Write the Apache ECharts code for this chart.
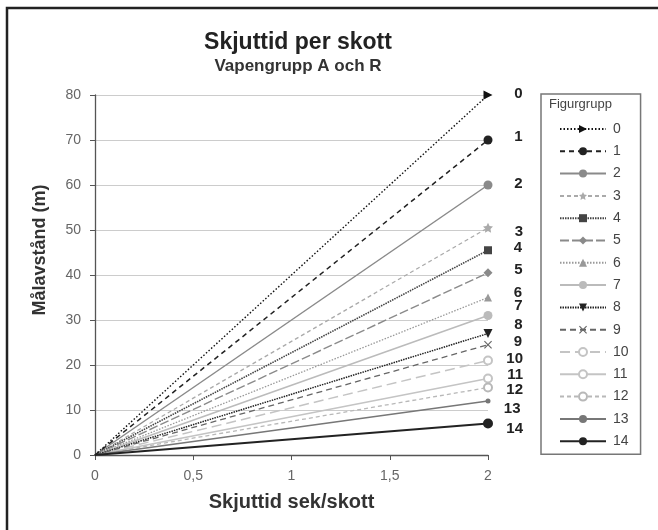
<!DOCTYPE html>
<html>
<head>
<meta charset="utf-8">
<script src="https://cdn.jsdelivr.net/npm/echarts@6/dist/echarts.min.js"></script>
<style>
html,body{margin:0;padding:0;background:#fff;}
#chart{width:658px;height:530px;}
</style>
</head>
<body>
<div id="chart"></div>
<script>
// ---- data ----
var groups = ['0','1','2','3','4','5','6','7','8','9','10','11','12','13','14'];
var endTime = 2;              // sek/skott at the end of each line
var distances = [80, 70, 60, 50.5, 45.5, 40.5, 35, 31, 27, 24.5, 21, 17, 15, 12, 7];
var xTicks = [0, 0.5, 1, 1.5, 2];
var yTicks = [0, 10, 20, 30, 40, 50, 60, 70, 80];

// ---- styles (not data) ----
var STAR = 'path://M0,-10 L2.9,-4 9.5,-3.1 4.7,1.5 5.9,8.1 0,5 -5.9,8.1 -4.7,1.5 -9.5,-3.1 -2.9,-4 Z';
var XMARK = 'path://M1,0 L5,4 9,0 10,1 6,5 10,9 9,10 5,6 1,10 0,9 4,5 0,1 Z';
var styles = [
  {c:'#111', t:[1.5,2], w:1.4, s:'triangle', r:-90, z:9},
  {c:'#222', t:[5,4], w:1.5, s:'circle', z:9},
  {c:'#8a8a8a', t:'solid', w:1.5, s:'circle', z:8},
  {c:'#aaa', t:[4,3], w:1.3, s:STAR, z:8},
  {c:'#444', t:[1.5,1], w:1.6, s:'rect', z:8},
  {c:'#8a8a8a', t:[9,3], w:1.4, s:'diamond', z:8},
  {c:'#999', t:[1.5,1.5], w:1.3, s:'triangle', z:8},
  {c:'#bbb', t:'solid', w:1.5, s:'circle', z:8},
  {c:'#222', t:[1.5,1], w:1.5, s:'triangle', r:180, z:8},
  {c:'#666', t:[6,4], w:1.3, s:XMARK, z:8},
  {c:'#c4c4c4', t:[10,5], w:1.5, s:'emptyCircle', z:7},
  {c:'#c4c4c4', t:'solid', w:1.4, s:'emptyCircle', z:7},
  {c:'#b8b8b8', t:[4,3], w:1.3, s:'emptyCircle', z:7},
  {c:'#777', t:'solid', w:1.5, s:'circle', z:8},
  {c:'#222', t:'solid', w:2, s:'circle', z:9}
];
var symSizes = [9, 9, 9, 10, 8, 9, 8, 9, 9, 8, 8, 8, 8, 5, 10];
var labelDy = [-1, -3, -1, 4, -2, -3, -5, -10, -9, -3, -2, -4, 2, 8, 5];

var series = groups.map(function (g, i) {
  var st = styles[i];
  var empty = st.s === 'emptyCircle';
  return {
    name: g,
    type: 'line',
    z: st.z,
    symbol: st.s,
    symbolRotate: st.r || 0,
    symbolSize: symSizes[i],
    showSymbol: true,
    animation: false,
    color: st.c,
    itemStyle: empty ? {color: st.c, borderWidth: 1.4} : {color: st.c},
    lineStyle: {color: st.c, width: st.w, type: st.t},
    data: [
      {value: [0, 0], symbol: 'none', label: {show: false}},
      {value: [endTime, distances[i]], label: {
        show: true, position: 'right', distance: 0, align: 'right',
        offset: [30, labelDy[i]], formatter: g,
        fontFamily: 'Liberation Sans', fontWeight: 'bold', fontSize: 15, color: '#222'
      }}
    ]
  };
});

var chart = echarts.init(document.getElementById('chart'));
chart.setOption({
  backgroundColor: '#fff',
  animation: false,
  title: {
    text: 'Skjuttid per skott',
    subtext: 'Vapengrupp A och R',
    left: 293, textAlign: 'center', top: 26,
    itemGap: 4,
    textStyle: {fontFamily: 'Liberation Sans', fontWeight: 'bold', fontSize: 23, color: '#222'},
    subtextStyle: {fontFamily: 'Liberation Sans', fontWeight: 'bold', fontSize: 17, color: '#333'}
  },
  grid: {left: 95, right: 170, top: 95, bottom: 75, containLabel: false},
  legend: {
    orient: 'vertical',
    left: 541, top: 94,
    padding: [28, 12, 6, 18],
    borderColor: '#777', borderWidth: 1.5,
    itemWidth: 46, itemHeight: 10, itemGap: 8.3,
    data: groups,
    textStyle: {fontFamily: 'Liberation Sans', fontSize: 14, color: '#444', padding: [0,0,0,2]}
  },
  xAxis: {
    type: 'value', min: 0, max: 2, interval: 0.5,
    name: 'Skjuttid sek/skott', nameLocation: 'middle', nameGap: 37,
    nameTextStyle: {fontFamily: 'Liberation Sans', fontWeight: 'bold', fontSize: 20, color: '#333'},
    axisLine: {show: true, lineStyle: {color: '#555', width: 1.3}},
    axisTick: {show: true, length: 5, lineStyle: {color: '#555'}},
    splitLine: {show: false},
    axisLabel: {margin: 14, fontFamily: 'Liberation Sans', fontSize: 14, color: '#666',
      formatter: function (v) { return String(v).replace('.', ','); }}
  },
  yAxis: {
    type: 'value', min: 0, max: 80, interval: 10,
    axisLine: {show: true, lineStyle: {color: '#555', width: 1.3}},
    axisTick: {show: true, length: 5, lineStyle: {color: '#555'}},
    splitLine: {show: true, lineStyle: {color: '#ccc', width: 1}},
    axisLabel: {margin: 14, fontFamily: 'Liberation Sans', fontSize: 14, color: '#666'}
  },
  graphic: [
    {type: 'rect', shape: {x: 7, y: 8, width: 670, height: 560}, style: {fill: 'none', stroke: '#222', lineWidth: 2.5}, silent: true},
    {type: 'text', left: 549, top: 98, style: {text: 'Figurgrupp', font: '13px "Liberation Sans"', fill: '#444'}},
    {type: 'text', x: 40, y: 250, rotation: Math.PI / 2, style: {text: 'Målavstånd (m)', font: 'bold 18px "Liberation Sans"', fill: '#333', align: 'center', verticalAlign: 'middle'}}
  ],
  series: series
});
</script>
</body>
</html>
